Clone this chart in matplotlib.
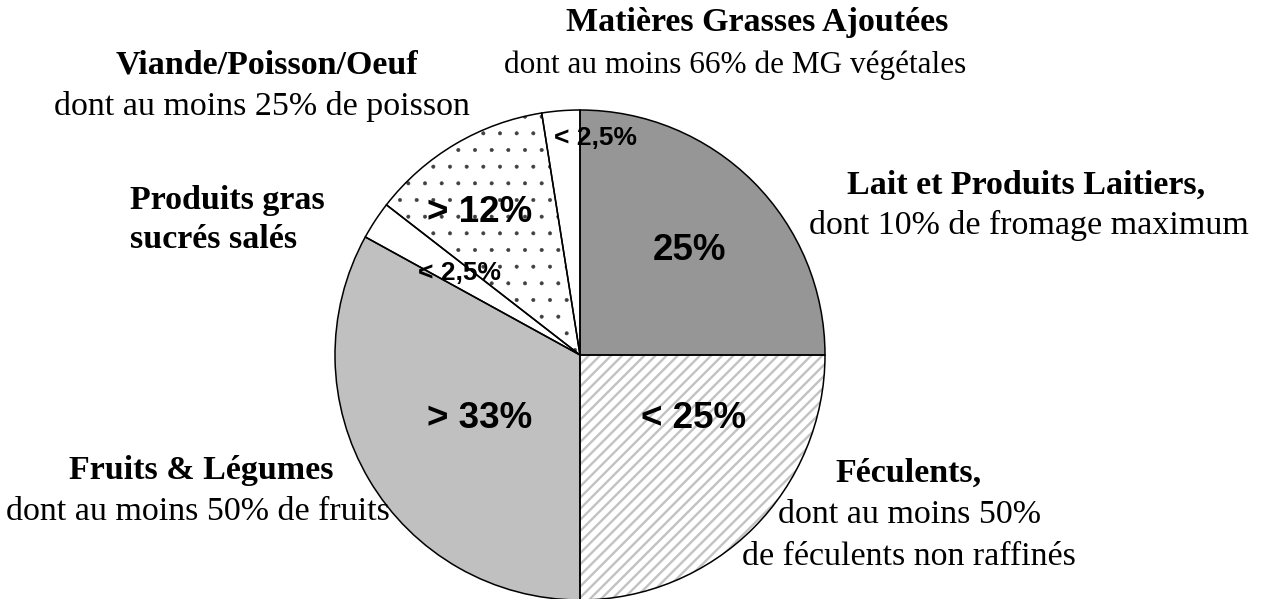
import matplotlib.pyplot as plt

# slice data, clockwise from 12 o'clock
categories = ["Lait et Produits Laitiers", "Féculents", "Fruits & Légumes",
              "Produits gras sucrés salés", "Viande/Poisson/Oeuf",
              "Matières Grasses Ajoutées"]
values = [25, 25, 33, 2.5, 12, 2.5]
pct_labels = ["25%", "< 25%", "> 33%", "< 2,5%", "> 12%", "< 2,5%"]
face_colors = ["#969696", "white", "#c0c0c0", "white", "white", "white"]
hatches = [None, "///", None, None, ".", None]
hatch_colors = ["#969696", "#c2c2c2", "#c0c0c0", "white", "#404040", "white"]
hatch_widths = [1.0, 1.7, 1.0, 1.0, 0.4, 1.0]

W, H = 1263, 599
fig = plt.figure(figsize=(W / 100, H / 100), dpi=100)
ax = fig.add_axes([0, 0, 1, 1])

cx, cy, r = 580, H - 355, 245

plt.rcParams['hatch.linewidth'] = 1.7
# fill + hatch layer
wedges, _ = ax.pie(values, startangle=90, counterclock=False,
                   center=(cx, cy), radius=r, colors=face_colors,
                   wedgeprops=dict(linewidth=0))
for w, h, hc, hw in zip(wedges, hatches, hatch_colors, hatch_widths):
    w.set_edgecolor(hc)
    if h:
        w.set_hatch(h)
        if hasattr(w, "set_hatch_linewidth"):
            w.set_hatch_linewidth(hw)
# outline layer
ax.pie(values, startangle=90, counterclock=False, center=(cx, cy), radius=r,
       colors=["none"] * len(values),
       wedgeprops=dict(linewidth=1.1, edgecolor="black"))

ax.set_xlim(0, W)
ax.set_ylim(0, H)
ax.set_aspect('equal')
ax.axis('off')

serif = "Liberation Serif"
sans = "Liberation Sans"

def txt(x, y, s, bold=False, size=24.5, family=serif, ha="center"):
    ax.text(x, H - y, s, ha=ha, va="center", fontsize=size, family=family,
            fontweight="bold" if bold else "normal", color="black")

# percentage labels
pct_pos = [(689, 250), (694, 418), (480, 418), (459, 273), (480, 213), (596, 138)]
pct_size = [26.5, 26.5, 26.5, 19, 26.5, 19]
for (x, y), s, fs in zip(pct_pos, pct_labels, pct_size):
    txt(x, y, s, bold=True, size=fs, family=sans)

# category labels
txt(1026, 185, "Lait et Produits Laitiers,", bold=True)
txt(1029, 225, "dont 10% de fromage maximum")
txt(909, 473, "Féculents,", bold=True)
txt(910, 515, "dont au moins 50%")
txt(909, 557, "de féculents non raffinés")
txt(201, 470, "Fruits & Légumes", bold=True)
txt(198, 512, "dont au moins 50% de fruits")
txt(130, 200, "Produits gras", bold=True, ha="left")
txt(130, 240, "sucrés salés", bold=True, ha="left")
txt(267, 65, "Viande/Poisson/Oeuf", bold=True)
txt(262, 107, "dont au moins 25% de poisson")
txt(757, 22, "Matières Grasses Ajoutées", bold=True)
txt(735, 65, "dont au moins 66% de MG végétales", size=22.5)

fig.savefig("out.png", dpi=100)
